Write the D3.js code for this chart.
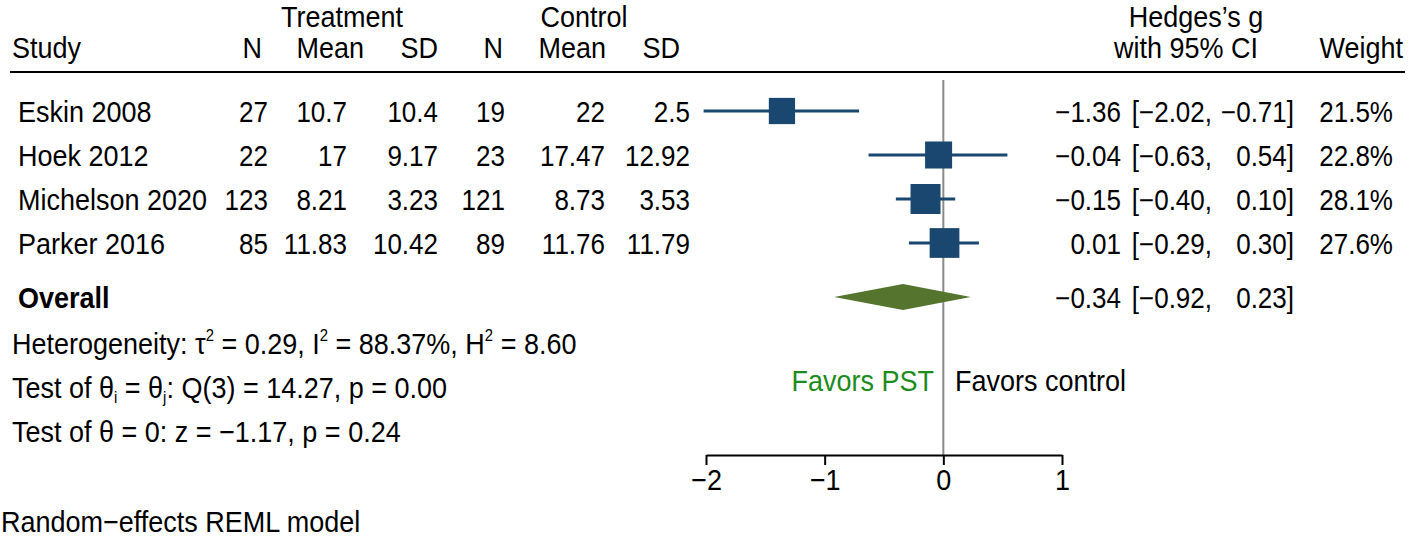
<!DOCTYPE html>
<html>
<head>
<meta charset="utf-8">
<script src="https://cdn.jsdelivr.net/npm/d3@7"></script>
<style>
  html, body { margin: 0; padding: 0; background: #fff; }
  svg text { font-family: "Liberation Sans", Arial, Helvetica, sans-serif; fill: #000; }
</style>
</head>
<body>
<svg id="chart" width="1415" height="539"></svg>
<script>
// ---------------- data ----------------
const studies   = ["Eskin 2008", "Hoek 2012", "Michelson 2020", "Parker 2016"];
const treatN    = [27, 22, 123, 85];
const treatMean = [10.7, 17, 8.21, 11.83];
const treatSD   = [10.4, 9.17, 3.23, 10.42];
const ctrlN     = [19, 23, 121, 89];
const ctrlMean  = [22, 17.47, 8.73, 11.76];
const ctrlSD    = [2.5, 12.92, 3.53, 11.79];
const hedgesG   = [-1.36, -0.04, -0.15, 0.01];
const ciLow     = [-2.02, -0.63, -0.40, -0.29];
const ciHigh    = [-0.71, 0.54, 0.10, 0.30];
const weights   = [21.5, 22.8, 28.1, 27.6];
const overall   = { g: -0.34, lo: -0.92, hi: 0.23 };
const hetero    = { tau2: "0.29", I2: "88.37%", H2: "8.60" };
const qTest     = { df: 3, Q: "14.27", p: "0.00" };
const zTest     = { z: "−1.17", p: "0.24" };
const axisTicks = [-2, -1, 0, 1];

// ---------------- layout ----------------
const FS = 27, FSN = 26;
const SY = 1.1; // vertical stretch of the reference's lettering
const svg = d3.select("#chart");
const x = d3.scaleLinear().domain([-2, 1]).range([706, 1062]);
const y = d3.scalePoint().domain(studies).range([111, 243]);
const yOverall = 297;
const size = d3.scaleSqrt().domain([0, 28.1]).range([0, 30]);
const navy = "#1a476f", olive = "#55752f", green = "#1c8c1c";
const fmt2 = d3.format(".2f"), fmt1 = d3.format(".1f");
const base = c => c + 10.5; // text baseline from a vertical centre

function mkText(xp, yb, fs) {
  return svg.append("text").attr("x", 0).attr("y", 0)
    .attr("transform", `translate(${xp},${yb}) scale(1,${SY})`)
    .attr("font-size", fs || FS);
}
function txt(xp, yc, s, anchor, opts) {
  const t = mkText(xp, base(yc), opts && opts.fs).attr("text-anchor", anchor || "start").text(s);
  if (opts && opts.bold) t.attr("font-weight", "bold");
  if (opts && opts.fill) t.style("fill", opts.fill);
  return t;
}
const num = { fs: FSN };

// column right edges
const col = { tN: 268, tMean: 347, tSD: 438, cN: 505, cMean: 605, cSD: 690,
              est: 1121, lo: 1212, hi: 1294, w: 1393 };

// header
txt(342, 16.5, "Treatment", "middle");
txt(584, 16.5, "Control", "middle");
txt(1196, 16.5, "Hedges’s g", "middle");
txt(12, 47, "Study");
txt(262, 47, "N", "end");
txt(364, 47, "Mean", "end");
txt(438, 47, "SD", "end");
txt(503, 47, "N", "end");
txt(606, 47, "Mean", "end");
txt(680, 47, "SD", "end");
txt(1258, 47, "with 95% CI", "end");
txt(1403, 47, "Weight", "end");
svg.append("line").attr("x1", 10).attr("x2", 1405).attr("y1", 72).attr("y2", 72)
  .attr("stroke", "#000").attr("stroke-width", 2);

// zero line
svg.append("line").attr("x1", x(0)).attr("x2", x(0)).attr("y1", 80).attr("y2", 455)
  .attr("stroke", "#8a8a8a").attr("stroke-width", 2);

// study rows
studies.forEach((s, i) => {
  const yc = y(s);
  txt(18, yc, s);
  txt(col.tN, yc, String(treatN[i]), "end", num);
  txt(col.tMean, yc, String(treatMean[i]), "end", num);
  txt(col.tSD, yc, String(treatSD[i]), "end", num);
  txt(col.cN, yc, String(ctrlN[i]), "end", num);
  txt(col.cMean, yc, String(ctrlMean[i]), "end", num);
  txt(col.cSD, yc, String(ctrlSD[i]), "end", num);
  txt(col.est, yc, fmt2(hedgesG[i]), "end", num);
  txt(col.lo, yc, "[" + fmt2(ciLow[i]) + ",", "end", num);
  txt(col.hi, yc, fmt2(ciHigh[i]) + "]", "end", num);
  txt(col.w, yc, fmt1(weights[i]) + "%", "end", num);
  svg.append("line").attr("x1", x(ciLow[i])).attr("x2", x(ciHigh[i]))
    .attr("y1", yc).attr("y2", yc).attr("stroke", navy).attr("stroke-width", 3);
  const sz = size(weights[i]);
  svg.append("rect").attr("x", x(hedgesG[i]) - sz / 2).attr("y", yc - sz / 2)
    .attr("width", sz).attr("height", sz).attr("fill", navy);
});

// overall
txt(18, yOverall, "Overall", "start", { bold: true });
txt(col.est, yOverall, fmt2(overall.g), "end", num);
txt(col.lo, yOverall, "[" + fmt2(overall.lo) + ",", "end", num);
txt(col.hi, yOverall, fmt2(overall.hi) + "]", "end", num);
svg.append("path")
  .attr("d", `M${x(overall.lo)},${yOverall} L${x(overall.g)},${yOverall - 13} L${x(overall.hi)},${yOverall} L${x(overall.g)},${yOverall + 13} Z`)
  .attr("fill", olive);

// heterogeneity statistics
function sup(t, s) { t.append("tspan").attr("font-size", FS * 0.55).attr("dy", -11).text(s); }
function resetAfter(t, s) { t.append("tspan").attr("dy", 11).text(s); }
function sub(t, s) { t.append("tspan").attr("font-size", FS * 0.55).attr("dy", 5).text(s); }
function resetSub(t, s) { t.append("tspan").attr("dy", -5).text(s); }

let t1 = mkText(12, base(343));
t1.append("tspan").text("Heterogeneity: τ");
sup(t1, "2"); resetAfter(t1, " = " + hetero.tau2 + ", I");
sup(t1, "2"); resetAfter(t1, " = " + hetero.I2 + ", H");
sup(t1, "2"); resetAfter(t1, " = " + hetero.H2);

let t2 = mkText(12, base(387));
t2.append("tspan").text("Test of θ");
sub(t2, "i"); resetSub(t2, " = θ");
sub(t2, "j"); resetSub(t2, ": Q(" + qTest.df + ") = " + qTest.Q + ", p = " + qTest.p);

txt(12, 431, "Test of θ = 0: z = " + zTest.z + ", p = " + zTest.p);

// favors labels
txt(934, 380, "Favors PST", "end", { fill: green });
txt(955, 380, "Favors control", "start");

// axis
const axis = d3.axisBottom(x).tickValues(axisTicks).tickSize(10).tickSizeOuter(0)
  .tickPadding(4).tickFormat(d3.format("d"));
const gA = svg.append("g").attr("transform", "translate(0,455)").call(axis);
gA.select(".domain").attr("stroke", "#000").attr("stroke-width", 2);
gA.selectAll(".tick line").attr("stroke", "#000").attr("stroke-width", 2);
gA.selectAll(".tick text").attr("font-size", FS).attr("font-family", "Liberation Sans, Arial, sans-serif")
  .style("fill", "#000").attr("transform", `scale(1,${SY})`).attr("dy", "0.65em");

// note
mkText(0, 532).attr("x", 1).text("Random−effects REML model");
</script>
</body>
</html>
